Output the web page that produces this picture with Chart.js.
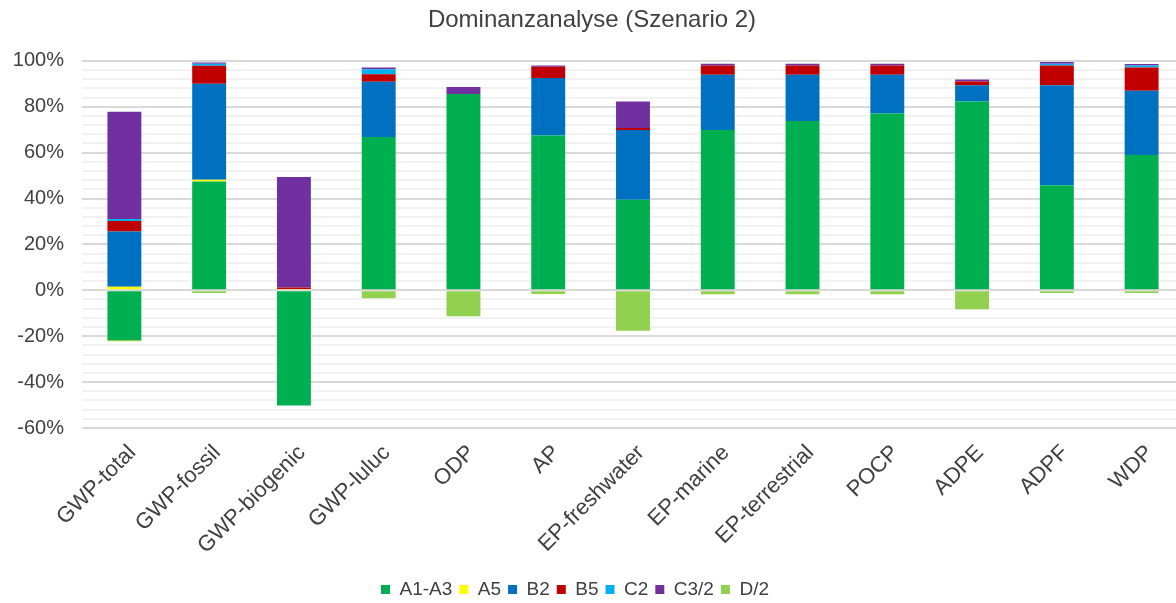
<!DOCTYPE html>
<html>
<head>
<meta charset="utf-8">
<script src="https://cdn.jsdelivr.net/npm/chart.js@4/dist/chart.umd.min.js"></script>
<style>
  body { margin: 0; overflow: hidden; background: #fff; }
  #wrap { width: 1202px; height: 603px; }
</style>
</head>
<body>
<div id="wrap"><canvas id="dominanzChart"></canvas></div>
<script>
const categories = ["GWP-total", "GWP-fossil", "GWP-biogenic", "GWP-luluc", "ODP", "AP",
  "EP-freshwater", "EP-marine", "EP-terrestrial", "POCP", "ADPE", "ADPF", "WDP"];

// Anteile in %
const a1a3 = [-21.7, 47.4, -50.2, 66.8, 85.5, 67.5, 39.5, 69.9, 73.8, 77.0, 82.3, 45.8, 59.0];
const a5   = [1.6, 0.8, 0.6, 0, 0, 0, 0, 0, 0, 0, 0, 0, 0];
const b2   = [24.0, 41.8, 0, 24.1, 0, 25.0, 30.4, 24.0, 20.1, 16.9, 7.0, 43.5, 28.0];
const b5   = [4.6, 7.8, 0.6, 3.2, 0, 4.9, 0.8, 4.1, 4.1, 4.1, 1.7, 8.6, 10.1];
const c2   = [0.9, 0.9, 0, 2.2, 0, 0, 0, 0, 0, 0, 0, 0.8, 0.9];
const c32  = [46.7, 0.6, 48.2, 0.8, 3.1, 0.6, 11.6, 0.7, 0.7, 0.7, 0.9, 0.8, 0.6];
const d2   = [-0.5, -1.2, 0, -3.5, -11.3, -1.6, -17.6, -1.7, -1.7, -1.7, -8.3, -1.2, -1.2];

const yMin = -60;
const yMax = 100;
const yStep = 4;

const font = "'Liberation Sans', Arial, sans-serif";

// legend sits a bit left of centre in the original
const legendShift = {
  id: "legendShift",
  afterLayout(chart) {
    const lg = chart.legend;
    lg.left -= 17;
    lg.right -= 17;
    lg.top += 6;
    lg.bottom += 6;
  },
};

const ctx = document.getElementById("dominanzChart").getContext("2d");
new Chart(ctx, {
  type: "bar",
  data: {
    labels: categories,
    datasets: [
      { label: "A1-A3", data: a1a3, backgroundColor: "#00B050" },
      { label: "A5", data: a5, backgroundColor: "#FFFF00" },
      { label: "B2", data: b2, backgroundColor: "#0070C0" },
      { label: "B5", data: b5, backgroundColor: "#C00000" },
      { label: "C2", data: c2, backgroundColor: "#00B0F0" },
      { label: "C3/2", data: c32, backgroundColor: "#7030A0" },
      { label: "D/2", data: d2, backgroundColor: "#92D050" },
    ],
  },
  options: {
    responsive: true,
    maintainAspectRatio: false,
    animation: false,
    layout: { padding: { left: 0, right: 18, top: 0, bottom: 0 } },
    datasets: {
      bar: { barPercentage: 0.4, categoryPercentage: 1, borderWidth: 0 },
    },
    plugins: {
      title: {
        display: true,
        text: "Dominanzanalyse (Szenario 2)",
        color: "#404040",
        font: { family: font, size: 24, weight: "normal" },
        padding: { top: 6, bottom: 26 },
      },
      legend: {
        position: "bottom",
        labels: {
          boxWidth: 9,
          boxHeight: 9,
          padding: 7,
          color: "#404040",
          font: { family: font, size: 19 },
        },
      },
      tooltip: { enabled: false },
    },
    scales: {
      x: {
        stacked: true,
        grid: { display: false, drawTicks: false },
        border: { display: false },
        ticks: {
          color: "#404040",
          font: { family: font, size: 22 },
          maxRotation: 45,
          minRotation: 45,
          padding: 12,
          labelOffset: 8,
          autoSkip: false,
        },
        afterFit: (scale) => {
          scale.height = 139;
        },
      },
      y: {
        stacked: true,
        min: yMin,
        max: yMax,
        border: { display: false },
        grid: {
          drawTicks: false,
          lineWidth: 2,
          color: (c) => (c.tick.value % 20 === 0 ? "#d9d9d9" : "#f2f2f2"),
        },
        ticks: {
          stepSize: yStep,
          autoSkip: false,
          padding: 18,
          color: "#404040",
          font: { family: font, size: 20 },
          callback: (v) => (v % 20 === 0 ? v + "%" : ""),
        },
        afterFit: (scale) => {
          scale.width = 82;
        },
      },
    },
  },
  plugins: [legendShift],
});
</script>
</body>
</html>
